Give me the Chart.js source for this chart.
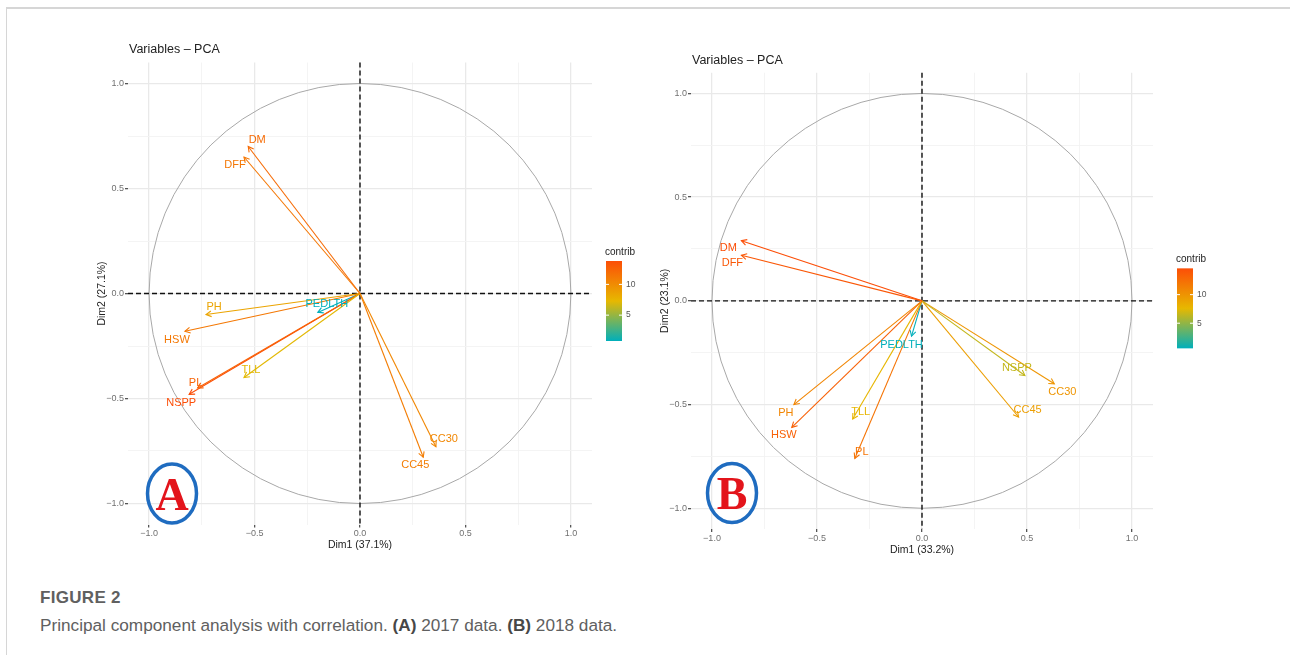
<!DOCTYPE html>
<html>
<head>
<meta charset="utf-8">
<script src="https://cdn.jsdelivr.net/npm/chart.js@4.4.0/dist/chart.umd.min.js"></script>
<style>
  body { margin: 0; background: #fff; width: 1290px; height: 655px; position: relative; overflow: hidden; font-family: "Liberation Sans", Arial, sans-serif; }
  .frame { position: absolute; left: 6px; top: 7px; width: 1290px; height: 660px; border-top: 2px solid #d6d6d6; border-left: 1px solid #d6d6d6; }
  #pcaA { position: absolute; left: 93px; top: 35px; }
  #pcaB { position: absolute; left: 656px; top: 45px; }
  .fig { position: absolute; left: 40px; top: 588px; font-size: 17px; font-weight: 600; color: #606060; letter-spacing: 0.3px; }
  .caption { position: absolute; left: 40px; top: 615px; font-size: 17.2px; color: #606060; }
  .caption b { font-weight: 700; color: #474747; }
</style>
</head>
<body>
<div class="frame"></div>
<canvas id="pcaA" width="560" height="525"></canvas>
<canvas id="pcaB" width="634" height="519"></canvas>
<div class="fig">FIGURE 2</div>
<div class="caption">Principal component analysis with correlation. <b>(A)</b> 2017 data. <b>(B)</b> 2018 data.</div>

<script>
// variables shown in both biplots
const variables = ['DFF', 'DM', 'PH', 'HSW', 'TLL', 'PL', 'NSPP', 'PEDLTH', 'CC30', 'CC45'];

// 2017 (panel A)
const dim1_2017 = [-0.55, -0.53, -0.73, -0.83, -0.55, -0.77, -0.81, -0.20, 0.36, 0.30];
const dim2_2017 = [0.65, 0.70, -0.10, -0.18, -0.40, -0.45, -0.48, -0.09, -0.73, -0.78];
const contrib_2017 = [11.3, 12.0, 8.5, 11.2, 7.2, 12.5, 13.8, 0.8, 10.3, 10.9];

// 2018 (panel B)
const dim1_2018 = [-0.86, -0.86, -0.61, -0.62, -0.33, -0.32, 0.49, -0.05, 0.63, 0.46];
const dim2_2018 = [0.22, 0.29, -0.50, -0.61, -0.57, -0.76, -0.36, -0.17, -0.40, -0.56];
const contrib_2018 = [14.0, 14.6, 11.0, 13.4, 7.7, 12.1, 6.5, 0.6, 9.9, 9.3];

// axis ticks
const gridTicks = [-1, -0.75, -0.5, -0.25, 0, 0.25, 0.5, 0.75, 1];
const labelTicks = [-1, -0.5, 0, 0.5, 1];
const legendTicks = [5, 10];

const gradCols = [[0, 175, 187], [231, 184, 0], [252, 78, 7]];

function contribColor(v, lo, hi) {
  let t = (v - lo) / (hi - lo);
  t = Math.max(0, Math.min(1, t));
  const seg = t < 0.5 ? 0 : 1;
  const f = t < 0.5 ? t * 2 : (t - 0.5) * 2;
  const a = gradCols[seg], b = gradCols[seg + 1];
  const c = a.map((x, i) => Math.round(x + (b[i] - x) * f));
  return 'rgb(' + c.join(',') + ')';
}

function fmtTick(v) {
  const s = Math.abs(v).toFixed(1);
  return v < 0 ? '\u2212' + s : s;
}

function makeAxis(title, fitKey, fitSize) {
  return {
    type: 'linear',
    min: -1.1,
    max: 1.1,
    afterBuildTicks: s => { s.ticks = gridTicks.map(v => ({ value: v })); },
    afterFit: s => { s[fitKey] = fitSize; },
    ticks: {
      autoSkip: false,
      maxRotation: 0,
      padding: 1,
      color: '#707070',
      font: { family: 'Liberation Sans', size: 9 },
      callback: v => labelTicks.includes(v) ? fmtTick(v) : ''
    },
    grid: {
      color: c => labelTicks.includes(c.tick.value) ? '#e9e9e9' : '#f3f3f3',
      lineWidth: c => labelTicks.includes(c.tick.value) ? 1.3 : 0.9,
      tickLength: 3,
      tickColor: c => labelTicks.includes(c.tick.value) ? '#555' : 'rgba(0,0,0,0)'
    },
    border: { display: false },
    title: {
      display: true,
      text: title,
      color: '#222',
      font: { family: 'Liberation Sans', size: 10.5 },
      padding: 3
    }
  };
}

// label offsets (px) from arrow tip, like ggrepel placed them
const nudgeA = { DM: [9, -7], DFF: [-9, 8], PH: [8, -8], HSW: [-8, 9], PEDLTH: [9, -8],
                 TLL: [7, -8], PL: [-2, -5], NSPP: [-8, 9], CC30: [8, -8], CC45: [-8, 8] };
const nudgeB = { DM: [-13, 7], DFF: [-9, 8], PEDLTH: [-10, 9], NSPP: [-8, -8], CC30: [8, 8],
                 CC45: [9, -7], PH: [-8, 8], HSW: [-8, 8], TLL: [8, -7], PL: [7, -7] };

const pcaDecor = {
  id: 'pcaDecor',
  beforeDatasetsDraw(chart, args, o) {
    const { ctx, chartArea: a, scales: { x, y } } = chart;
    const cx = x.getPixelForValue(0), cy = y.getPixelForValue(0);
    ctx.save();
    // correlation circle
    ctx.strokeStyle = '#a8a8a8';
    ctx.lineWidth = 1;
    ctx.beginPath();
    ctx.ellipse(cx, cy, x.getPixelForValue(1) - cx, cy - y.getPixelForValue(1), 0, 0, Math.PI * 2);
    ctx.stroke();
    // dashed zero lines
    ctx.strokeStyle = '#111';
    ctx.lineWidth = 1.4;
    ctx.setLineDash([5, 3]);
    ctx.beginPath();
    ctx.moveTo(a.left, cy); ctx.lineTo(a.right, cy);
    ctx.moveTo(cx, a.top); ctx.lineTo(cx, a.bottom);
    ctx.stroke();
    ctx.restore();
  },
  afterDatasetsDraw(chart, args, o) {
    const { ctx, chartArea: a, scales: { x, y } } = chart;
    const cx = x.getPixelForValue(0), cy = y.getPixelForValue(0);
    ctx.save();
    // arrow heads + labels
    ctx.font = '11px "Liberation Sans"';
    ctx.textAlign = 'center';
    ctx.textBaseline = 'middle';
    o.names.forEach((n, i) => {
      const px = x.getPixelForValue(o.d1[i]), py = y.getPixelForValue(o.d2[i]);
      const col = contribColor(o.contrib[i], o.lo, o.hi);
      const ang = Math.atan2(py - cy, px - cx);
      ctx.strokeStyle = col;
      ctx.lineWidth = 1.1;
      ctx.beginPath();
      ctx.moveTo(px - 6 * Math.cos(ang - 0.5), py - 6 * Math.sin(ang - 0.5));
      ctx.lineTo(px, py);
      ctx.lineTo(px - 6 * Math.cos(ang + 0.5), py - 6 * Math.sin(ang + 0.5));
      ctx.stroke();
      const nd = o.nudge[n];
      ctx.fillStyle = col;
      ctx.fillText(n, px + nd[0], py + nd[1]);
    });

    // title
    ctx.fillStyle = '#222';
    ctx.textAlign = 'left';
    ctx.font = '12.5px "Liberation Sans"';
    ctx.fillText('Variables \u2013 PCA', a.left + 1, a.top - 12.5);

    // colour bar legend
    const bx = a.right + o.legendGap, bw = 16, by = cy - 32.5, bh = 80;
    const g = ctx.createLinearGradient(0, by + bh, 0, by);
    g.addColorStop(0, 'rgb(0,175,187)');
    g.addColorStop(0.5, 'rgb(231,184,0)');
    g.addColorStop(1, 'rgb(252,78,7)');
    ctx.fillStyle = g;
    ctx.fillRect(bx, by, bw, bh);
    ctx.fillStyle = '#222';
    ctx.font = '10px "Liberation Sans"';
    ctx.fillText('contrib', bx - 1, by - 9);
    ctx.font = '8.5px "Liberation Sans"';
    ctx.fillStyle = '#555';
    legendTicks.forEach(t => {
      const ty = by + bh - (t - o.lo) / (o.hi - o.lo) * bh;
      ctx.strokeStyle = '#fff';
      ctx.lineWidth = 1;
      ctx.beginPath();
      ctx.moveTo(bx, ty); ctx.lineTo(bx + 3, ty);
      ctx.moveTo(bx + bw - 3, ty); ctx.lineTo(bx + bw, ty);
      ctx.stroke();
      ctx.fillText(String(t), bx + bw + 4, ty);
    });

    // panel badge
    const ex = a.left + o.badge[0], ey = a.bottom - o.badge[1];
    ctx.strokeStyle = '#1f6cc0';
    ctx.lineWidth = 3.5;
    ctx.beginPath();
    ctx.ellipse(ex, ey, 24.5, 29.5, 0, 0, Math.PI * 2);
    ctx.stroke();
    ctx.fillStyle = '#e3141b';
    ctx.font = 'bold 46px "Liberation Serif"';
    ctx.textAlign = 'center';
    ctx.textBaseline = 'alphabetic';
    ctx.fillText(o.letter, ex, ey + 16);
    ctx.restore();
  }
};

function buildPanel(id, d1, d2, contrib, xTitle, yTitle, pad, letter, nudge, legendGap, badge) {
  const lo = Math.min(...contrib), hi = Math.max(...contrib);
  const datasets = variables.map((n, i) => ({
    label: n,
    data: [{ x: 0, y: 0 }, { x: d1[i], y: d2[i] }],
    showLine: true,
    borderColor: contribColor(contrib[i], lo, hi),
    borderWidth: 1.1,
    pointRadius: 0
  }));
  return new Chart(document.getElementById(id), {
    type: 'scatter',
    data: { datasets },
    options: {
      responsive: false,
      animation: false,
      layout: { padding: pad },
      scales: {
        x: makeAxis(xTitle, 'height', 30),
        y: makeAxis(yTitle, 'width', 35)
      },
      plugins: {
        legend: { display: false },
        tooltip: { enabled: false },
        pcaDecor: { names: variables, d1, d2, contrib, lo, hi, letter, nudge, legendGap, badge }
      }
    },
    plugins: [pcaDecor]
  });
}

buildPanel('pcaA', dim1_2017, dim2_2017, contrib_2017, 'Dim1 (37.1%)', 'Dim2 (27.1%)',
  { left: 0, top: 27.5, right: 61, bottom: 5.5 }, 'A', nudgeA, 14, [44, 31]);
buildPanel('pcaB', dim1_2018, dim2_2018, contrib_2018, 'Dim1 (33.2%)', 'Dim2 (23.1%)',
  { left: 0, top: 27.7, right: 137, bottom: 5 }, 'B', nudgeB, 24, [41, 36]);
</script>
</body>
</html>
